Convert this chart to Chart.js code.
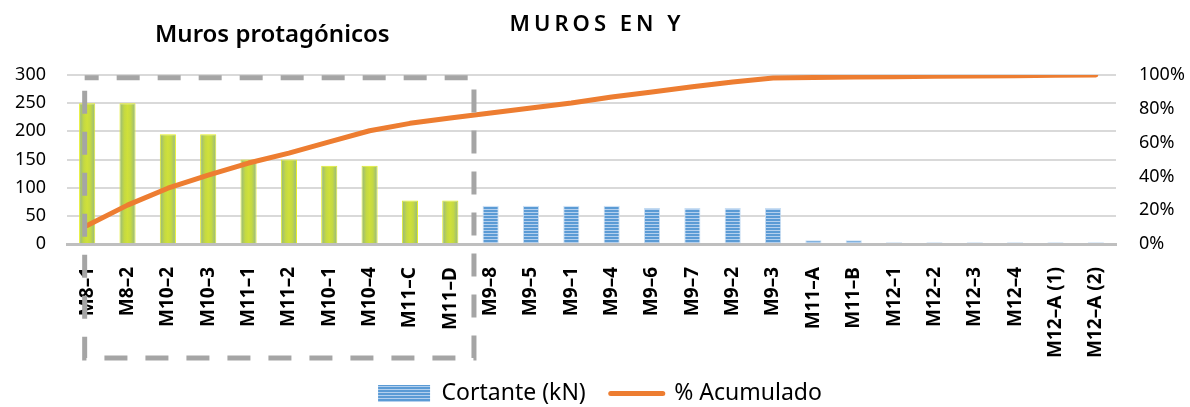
<!DOCTYPE html>
<html>
<head>
<meta charset="utf-8">
<script src="https://cdn.jsdelivr.net/npm/chart.js@4.4.0/dist/chart.umd.min.js"></script>
<style>
html, body { margin: 0; padding: 0; background: #fff; }
#wrap { width: 1190px; height: 407px; position: relative; }
</style>
</head>
<body>
<div id="wrap"><canvas id="murosChart"></canvas></div>
<script>
// datos
const categorias = ['M8–1', 'M8–2', 'M10–2', 'M10–3', 'M11–1', 'M11–2', 'M10–1', 'M10–4', 'M11–C', 'M11–D',
    'M9–8', 'M9–5', 'M9–1', 'M9–4', 'M9–6', 'M9–7', 'M9–2', 'M9–3', 'M11–A', 'M11–B',
    'M12–1', 'M12–2', 'M12–3', 'M12–4', 'M12–A (1)', 'M12–A (2)'];
const cortante = [250, 250, 195, 195, 150, 150, 139, 139, 77, 77,
    68, 68, 68, 68, 64, 64, 64, 64, 6.5, 6.5,
    3, 3, 3, 3, 3, 3];
const acumulado = [11, 23, 33, 40.8, 47.9, 53.8, 60.4, 67, 71.4, 74.5,
    77.5, 80.5, 83.4, 87, 90, 93, 95.9, 98.2, 98.5, 98.8,
    99.0, 99.2, 99.4, 99.6, 99.8, 100];
const ticksCortante = [0, 50, 100, 150, 200, 250, 300];
const ticksAcumulado = [0, 20, 40, 60, 80, 100];
const numProtagonicos = 10;

const FUENTE = "'Noto Sans', sans-serif";
const naranja = '#ed7d31';

// relleno rayado azul
const pat = document.createElement('canvas');
pat.width = 4; pat.height = 3;
const pctx = pat.getContext('2d');
pctx.fillStyle = '#5b9bd5'; pctx.fillRect(0, 0, 4, 2);
pctx.fillStyle = '#b4d0ee'; pctx.fillRect(0, 2, 4, 1);
const rayado = pctx.createPattern(pat, 'repeat');

function rellenoBarra(c) {
    if (c.type !== 'data') return '#5b9bd5';
    if (c.dataIndex >= numProtagonicos) return rayado;
    const x = c.chart.scales.x;
    if (!x) return '#c8dc3c';
    const cx = x.getPixelForValue(c.dataIndex);
    if (!isFinite(cx)) return '#c8dc3c';
    const g = c.chart.ctx.createLinearGradient(cx - 8, 0, cx + 8, 0);
    g.addColorStop(0, '#93b586');
    g.addColorStop(0.3, '#c4d942');
    g.addColorStop(0.5, '#cfe03a');
    g.addColorStop(0.7, '#c4d942');
    g.addColorStop(1, '#93b586');
    return g;
}

const textos = {
    id: 'textos',
    afterDraw(chart) {
        const ctx = chart.ctx;
        const x = chart.scales.x, y = chart.scales.y;
        // recuadro de muros protagonicos
        const izq = x.getPixelForValue(0) - 2.5;
        const der = (x.getPixelForValue(numProtagonicos - 1) + x.getPixelForValue(numProtagonicos)) / 2 + 3.5;
        const arriba = y.getPixelForValue(295);
        const abajo = x.bottom + 1;
        ctx.save();
        ctx.strokeStyle = '#a5a5a5';
        ctx.lineWidth = 5;
        ctx.setLineDash([23, 18]);
        ctx.lineDashOffset = 9;
        ctx.strokeRect(izq, arriba, der - izq, abajo - arriba);
        ctx.restore();

        ctx.save();
        ctx.fillStyle = '#000';
        ctx.textAlign = 'center';
        ctx.textBaseline = 'alphabetic';
        ctx.font = "600 24px " + FUENTE;
        ctx.fillText('Muros protagónicos', (izq + der) / 2 - 7, 42);
        ctx.letterSpacing = '4px';
        ctx.font = "600 22px " + FUENTE;
        ctx.fillText('MUROS EN Y', 597, 31);
        ctx.restore();
    }
};

const ctx = document.getElementById('murosChart').getContext('2d');
const murosChart = new Chart(ctx, {
    type: 'bar',
    data: {
        labels: categorias,
        datasets: [
            {
                label: 'Cortante (kN)',
                data: cortante,
                backgroundColor: rellenoBarra,
                borderColor: (c) => c.dataIndex < numProtagonicos ? '#e4ee22' : '#c9def3',
                borderWidth: 1,
                barPercentage: 0.4,
                categoryPercentage: 1,
                pointStyle: 'rect',
                yAxisID: 'y',
                order: 2
            },
            {
                type: 'line',
                label: '% Acumulado',
                data: acumulado,
                borderColor: naranja,
                backgroundColor: naranja,
                borderWidth: 5,
                pointRadius: 0,
                tension: 0,
                borderCapStyle: 'round',
                borderJoinStyle: 'round',
                pointStyle: 'line',
                yAxisID: 'y1',
                order: 1
            }
        ]
    },
    options: {
        responsive: true,
        maintainAspectRatio: false,
        animation: false,
        layout: {
            padding: { top: 75, left: 15, right: 5, bottom: -8 }
        },
        plugins: {
            title: { display: false },
            tooltip: { enabled: false },
            legend: {
                position: 'bottom',
                labels: {
                    font: { family: FUENTE, size: 23 },
                    color: '#000',
                    usePointStyle: true,
                    pointStyleWidth: 52,
                    boxHeight: 17,
                    padding: 25,
                    sort: (a, b) => a.datasetIndex - b.datasetIndex,
                    generateLabels: (chart) => {
                        const items = Chart.defaults.plugins.legend.labels.generateLabels(chart);
                        items.forEach(it => {
                            if (it.datasetIndex === 0) {
                                it.fillStyle = rayado;
                                it.lineWidth = 0;
                                it.pointStyle = 'rect';
                            } else {
                                it.strokeStyle = naranja;
                                it.lineWidth = 5;
                                it.lineCap = 'round';
                                it.pointStyle = 'line';
                            }
                        });
                        return items;
                    }
                }
            }
        },
        scales: {
            x: {
                grid: { display: false },
                border: { display: true, color: '#bfbfbf', width: 3 },
                afterFit: (s) => { s.paddingLeft = 0; s.paddingRight = 0; s.height = 113; },
                ticks: {
                    autoSkip: false,
                    maxRotation: 90,
                    minRotation: 90,
                    padding: 15,
                    color: '#000',
                    font: { family: FUENTE, size: 19, weight: 'bold' }
                }
            },
            y: {
                position: 'left',
                min: 0,
                max: 300,
                afterBuildTicks: (s) => { s.ticks = ticksCortante.map(v => ({ value: v })); },
                afterFit: (s) => { s.width = 52; },
                grid: { color: '#d9d9d9', lineWidth: 2, drawTicks: false },
                border: { display: false },
                ticks: {
                    padding: 21,
                    color: '#000',
                    font: { family: FUENTE, size: 18 }
                }
            },
            y1: {
                position: 'right',
                min: 0,
                max: 100,
                afterBuildTicks: (s) => { s.ticks = ticksAcumulado.map(v => ({ value: v })); },
                afterFit: (s) => { s.width = 69; },
                grid: { drawOnChartArea: false, drawTicks: false },
                border: { display: false },
                ticks: {
                    padding: 23,
                    color: '#000',
                    font: { family: FUENTE, size: 18 },
                    callback: (v) => v + '%'
                }
            }
        }
    },
    plugins: [textos]
});
</script>
</body>
</html>
